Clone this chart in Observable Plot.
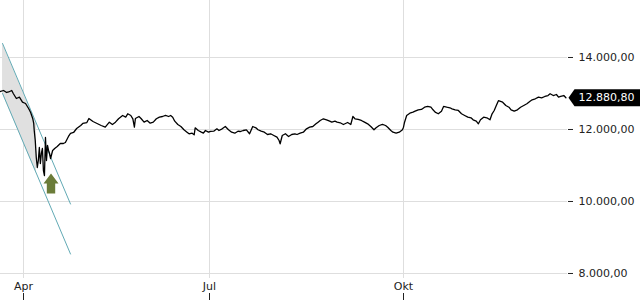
<!DOCTYPE html>
<html><head><meta charset="utf-8">
<script src="https://cdn.jsdelivr.net/npm/d3@7"></script>
<script src="https://cdn.jsdelivr.net/npm/@observablehq/plot@0.6"></script>
<style>
html,body{margin:0;padding:0;background:#fff;}
#chart{width:640px;height:300px;overflow:hidden;}
</style></head><body><div id="chart"></div>
<script>
// Price series (dates, closing values)
const dates = [
"2022-03-20T18:00","2022-03-22T06:00","2022-03-23T18:00","2022-03-24T18:00","2022-03-26T06:00","2022-03-27T00:00",
"2022-03-28T12:00","2022-03-30T00:00","2022-03-31T12:00","2022-04-02T00:00","2022-04-03T12:00","2022-04-04T12:00",
"2022-04-05T00:00","2022-04-05T12:00","2022-04-06T00:00","2022-04-06T06:00","2022-04-06T18:00","2022-04-07T06:00",
"2022-04-07T18:00","2022-04-08T06:00","2022-04-08T18:00","2022-04-09T06:00","2022-04-09T18:00","2022-04-10T06:00",
"2022-04-10T18:00","2022-04-11T06:00","2022-04-11T18:00","2022-04-12T06:00","2022-04-12T18:00","2022-04-13T06:00",
"2022-04-13T18:00","2022-04-14T06:00","2022-04-15T06:00","2022-04-16T06:00","2022-04-17T12:00","2022-04-19T00:00",
"2022-04-20T12:00","2022-04-21T12:00","2022-04-23T00:00","2022-04-24T00:00","2022-04-25T12:00","2022-04-27T00:00",
"2022-04-29T00:00","2022-04-30T00:00","2022-05-02T00:00","2022-05-03T00:00","2022-05-05T00:00","2022-05-07T00:00",
"2022-05-09T00:00","2022-05-11T00:00","2022-05-13T00:00","2022-05-14T12:00","2022-05-16T00:00","2022-05-17T12:00",
"2022-05-19T12:00","2022-05-21T00:00","2022-05-22T00:00","2022-05-23T12:00","2022-05-24T12:00","2022-05-25T06:00",
"2022-05-25T18:00","2022-05-27T12:00","2022-05-28T12:00","2022-05-30T00:00","2022-05-31T12:00","2022-06-02T00:00",
"2022-06-03T12:00","2022-06-05T00:00","2022-06-06T12:00","2022-06-08T00:00","2022-06-09T12:00","2022-06-11T00:00",
"2022-06-12T00:00","2022-06-13T00:00","2022-06-14T00:00","2022-06-15T12:00","2022-06-17T00:00","2022-06-18T12:00",
"2022-06-20T00:00","2022-06-21T00:00","2022-06-22T12:00","2022-06-23T12:00","2022-06-24T00:00","2022-06-25T12:00",
"2022-06-27T00:00","2022-06-28T00:00","2022-06-29T00:00","2022-06-30T12:00","2022-07-01T12:00","2022-07-03T00:00",
"2022-07-04T12:00","2022-07-05T12:00","2022-07-07T00:00","2022-07-08T12:00","2022-07-10T00:00","2022-07-11T12:00",
"2022-07-13T00:00","2022-07-14T12:00","2022-07-15T12:00","2022-07-17T00:00","2022-07-18T12:00","2022-07-20T00:00",
"2022-07-21T12:00","2022-07-23T00:00","2022-07-24T00:00","2022-07-25T12:00","2022-07-27T00:00","2022-07-28T12:00",
"2022-07-30T00:00","2022-07-31T12:00","2022-08-02T00:00","2022-08-03T00:00","2022-08-03T12:00","2022-08-04T12:00",
"2022-08-06T00:00","2022-08-07T12:00","2022-08-09T00:00","2022-08-10T12:00","2022-08-11T12:00","2022-08-13T00:00",
"2022-08-14T12:00","2022-08-16T00:00","2022-08-17T12:00","2022-08-19T00:00","2022-08-20T12:00","2022-08-21T12:00",
"2022-08-22T12:00","2022-08-24T00:00","2022-08-25T12:00","2022-08-27T00:00","2022-08-28T00:00","2022-08-29T12:00",
"2022-08-30T12:00","2022-09-01T00:00","2022-09-02T12:00","2022-09-04T12:00","2022-09-06T00:00","2022-09-07T00:00",
"2022-09-08T00:00","2022-09-09T12:00","2022-09-11T00:00","2022-09-12T12:00","2022-09-14T00:00","2022-09-15T12:00",
"2022-09-17T00:00","2022-09-18T00:00","2022-09-19T12:00","2022-09-21T00:00","2022-09-22T12:00","2022-09-23T12:00",
"2022-09-25T00:00","2022-09-26T00:00","2022-09-27T12:00","2022-09-29T00:00","2022-09-30T12:00","2022-10-01T00:00",
"2022-10-01T12:00","2022-10-02T12:00","2022-10-04T00:00","2022-10-05T12:00","2022-10-06T12:00","2022-10-08T00:00",
"2022-10-09T12:00","2022-10-11T00:00","2022-10-12T12:00","2022-10-14T00:00","2022-10-15T00:00","2022-10-16T00:00",
"2022-10-17T12:00","2022-10-19T00:00","2022-10-20T00:00","2022-10-21T12:00","2022-10-23T00:00","2022-10-24T00:00",
"2022-10-25T12:00","2022-10-27T00:00","2022-10-28T12:00","2022-10-30T00:00","2022-10-31T12:00","2022-11-02T00:00",
"2022-11-03T00:00","2022-11-04T12:00","2022-11-05T12:00","2022-11-06T12:00","2022-11-08T00:00","2022-11-09T12:00",
"2022-11-11T00:00","2022-11-12T00:00","2022-11-13T00:00","2022-11-14T00:00","2022-11-15T00:00","2022-11-17T00:00",
"2022-11-18T12:00","2022-11-20T00:00","2022-11-21T00:00","2022-11-22T12:00","2022-11-24T00:00","2022-11-25T12:00",
"2022-11-27T00:00","2022-11-28T12:00","2022-11-30T00:00","2022-12-01T00:00","2022-12-02T12:00","2022-12-04T00:00",
"2022-12-05T12:00","2022-12-07T00:00","2022-12-08T12:00","2022-12-09T12:00","2022-12-11T00:00","2022-12-12T12:00",
"2022-12-13T12:00","2022-12-14T12:00","2022-12-16T00:00","2022-12-17T00:00"
];
const closes = [
13056,13083,13028,13042,13083,13000,
12861,12897,12758,12722,12583,12472,
12389,12306,12167,11972,11694,11222,
10944,11139,11500,11056,11333,11472,
10861,10722,11778,11139,11556,11417,
11333,11194,11417,11472,11528,11611,
11611,11639,11806,11889,11917,12028,
12111,12167,12194,12306,12222,12167,
12111,12064,12203,12139,12203,12297,
12389,12342,12436,12389,12297,12064,
12306,12361,12306,12203,12250,12175,
12203,12297,12342,12361,12389,12361,
12389,12342,12231,12139,12083,11992,
11925,11881,11897,11853,12047,11972,
11925,11897,11972,11925,11950,11953,
12019,11972,12019,12083,11992,11925,
11897,11953,11944,11972,11992,11881,
12083,12047,11992,11953,11925,11861,
11881,11833,11786,11694,11603,11833,
11881,11806,11861,11881,11861,11897,
11925,12019,12064,12083,12158,12203,
12250,12297,12269,12231,12203,12231,
12203,12186,12139,12194,12139,12361,
12297,12278,12250,12203,12158,12083,
11992,12047,12111,12139,12111,12064,
11972,11925,11897,11925,11992,12064,
12203,12389,12453,12481,12508,12547,
12556,12619,12639,12619,12547,12481,
12436,12508,12639,12619,12603,12575,
12547,12528,12436,12389,12342,12325,
12269,12231,12158,12269,12342,12325,
12269,12436,12528,12667,12800,12758,
12667,12619,12547,12508,12547,12619,
12667,12714,12786,12825,12853,12897,
12880,12917,12944,12992,12944,12972,
12897,12917,12944,12880.80
];
const lastClose = 12880.80;

// Falling trend channel
const channelDates = ["2022-03-21T18:00","2022-04-24T00:00"];
const channelUpper = [14389, 9930];
const channelLower = [13000, 8541];
// Shaded part of the channel
const shadeDates = ["2022-03-21T18:00","2022-04-07T08:00"];
const shadeUpper = [14389, 12161];
const shadeLower = [13000, 10772];

// Buy-signal arrow
const arrowDate = "2022-04-14T11:00";
const arrowValue = 10500;

// Axis ticks
const xDomainStart = "2022-03-20T18:00";
const xDomainEnd = "2022-12-17T18:00";
const tickDates = ["2022-04-01T00:00","2022-07-01T00:00","2022-10-01T00:00"];
const tickLabels = ["Apr","Jul","Okt"];
const yTicks = [8000, 10000, 12000, 14000];

const toDate = s => new Date(s + "Z");
const de = d3.formatLocale({decimal: ",", thousands: ".", grouping: [3], currency: ["", " €"]});
const fmt = de.format(",.2f");

const price = dates.map((d, i) => ({date: toDate(d), value: closes[i]}));
const upper = channelDates.map((d, i) => ({date: toDate(d), value: channelUpper[i]}));
const lower = channelDates.map((d, i) => ({date: toDate(d), value: channelLower[i]}));
const shade = shadeDates.map((d, i) => ({date: toDate(d), hi: shadeUpper[i], lo: shadeLower[i]}));
const ticks = tickDates.map(toDate);
const labelOf = d => tickLabels[ticks.findIndex(t => +t === +d)];

const arrowSymbol = {draw(ctx) {
  ctx.moveTo(0, -10); ctx.lineTo(7.5, 0); ctx.lineTo(4.2, 0); ctx.lineTo(4.2, 10);
  ctx.lineTo(-4.2, 10); ctx.lineTo(-4.2, 0); ctx.lineTo(-7.5, 0); ctx.closePath();
}};
const tagSymbol = {draw(ctx) {
  ctx.moveTo(0, 0); ctx.lineTo(6, -8.5); ctx.lineTo(80, -8.5); ctx.lineTo(80, 8.5); ctx.lineTo(6, 8.5); ctx.closePath();
}};

const gridColor = "#dedede";
const chart = Plot.plot({
  width: 640, height: 300,
  marginLeft: 0, marginRight: 73, marginTop: 0, marginBottom: 22,
  style: {fontFamily: "'DejaVu Sans', sans-serif", fontSize: "11px", color: "#222", background: "#fff", overflow: "visible"},
  x: {type: "time", domain: [toDate(xDomainStart), ticks[0], ticks[1], ticks[2], toDate(xDomainEnd)], range: [0, 23, 209, 403, 567]},
  y: {domain: [7861, 15583]},
  marks: [
    Plot.gridY(yTicks, {stroke: gridColor, strokeOpacity: 1}),
    Plot.gridX(ticks, {stroke: gridColor, strokeOpacity: 1}),
    Plot.areaY(shade, {x: "date", y1: "lo", y2: "hi", fill: "#e0e0e0"}),
    Plot.line(upper, {x: "date", y: "value", stroke: "#62aab5", strokeWidth: 1}),
    Plot.line(lower, {x: "date", y: "value", stroke: "#62aab5", strokeWidth: 1}),
    Plot.line(price, {x: "date", y: "value", stroke: "#000", strokeWidth: 1.3}),
    Plot.dot([arrowValue], {x: () => toDate(arrowDate), y: d => d, symbol: arrowSymbol, fill: "#6b7c39", stroke: null}),
    Plot.axisY(yTicks, {anchor: "right", tickSize: 5, tickPadding: 6, tickFormat: fmt}),
    Plot.axisX(ticks, {anchor: "bottom", tickSize: 0, tickPadding: 4, tickFormat: labelOf}),
    Plot.axisX(ticks, {anchor: "bottom", tickSize: 7, tickFormat: () => "", dy: 15}),
    Plot.dot([lastClose], {y: d => d, frameAnchor: "right", dx: 1, symbol: tagSymbol, fill: "#000", stroke: null}),
    Plot.text([lastClose], {y: d => d, frameAnchor: "right", dx: 11, textAnchor: "start", text: fmt, fill: "#fff", fontSize: 11})
  ]
});
document.getElementById("chart").appendChild(chart);
</script>
</body></html>
